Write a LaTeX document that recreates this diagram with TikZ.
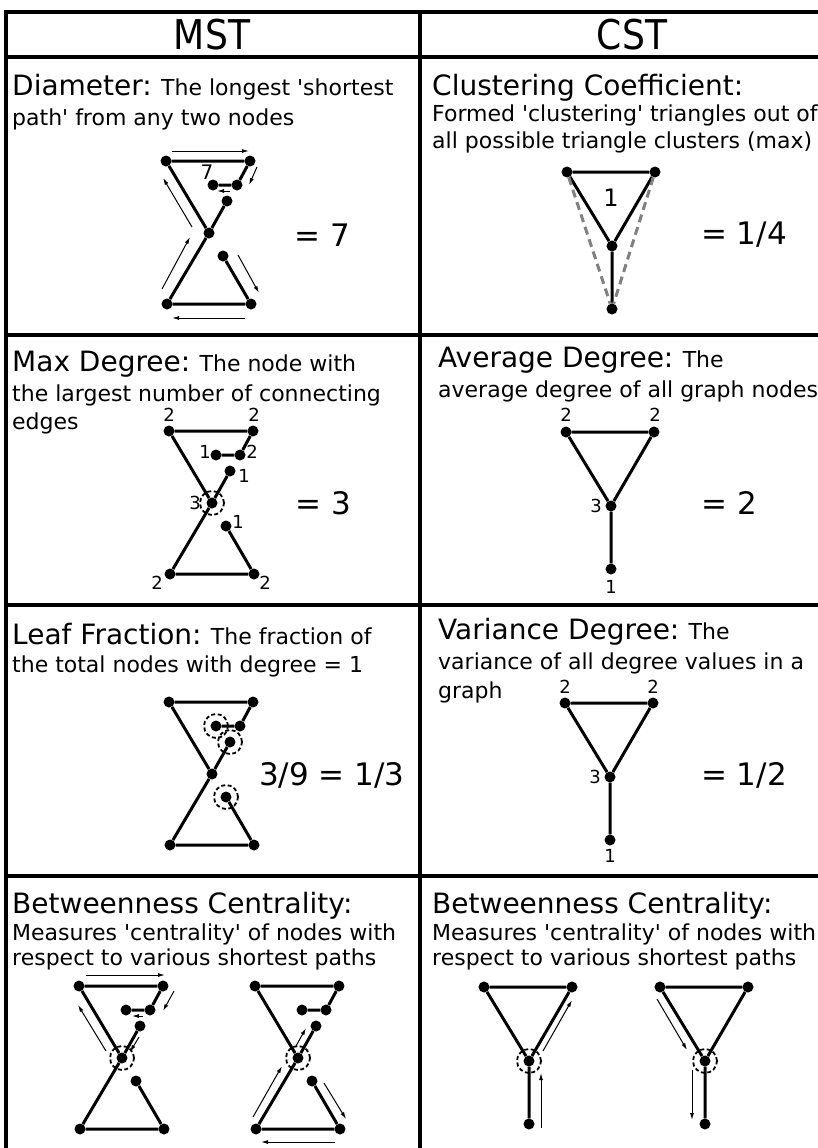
\documentclass[tikz,border=0pt]{standalone}
\usepackage{fontspec}
\setmainfont{DejaVu Sans}
\usetikzlibrary{arrows.meta}
\newcommand\hdtxt[1]{{\fontsize{28}{30}\selectfont #1}}
\newcommand\qq{\textquotesingle}
\tikzset{
  tab/.style={line width=4pt, line cap=rect},
  dot/.style={circle, fill=black, inner sep=0pt, minimum size=11pt},
  edge/.style={line width=3pt},
  arr/.style={-{Latex[length=7pt,width=4pt]}, line width=1pt},
  dcirc/.style={circle, draw, line width=1.8pt, dash pattern=on 4pt off 2.5pt, minimum size=24pt, inner sep=0pt},
  gdash/.style={line width=3pt, draw=black!50, dash pattern=on 8pt off 5pt},
  txt/.style={anchor=base west, inner sep=0pt, font=\fontsize{22}{24}\selectfont},
  eqt/.style={inner sep=0pt, font=\fontsize{31}{33}\selectfont},
  deg/.style={inner sep=0pt, font=\fontsize{18}{20}\selectfont},
  hdr/.style={inner sep=0pt, font=\fontsize{41}{44}\selectfont}
}
\newcommand\hourglass[3]{%
  \begin{scope}[shift={(#2,#3)}]
    \node[dot] (#1tl) at (0,0) {};
    \node[dot] (#1tr) at (84,0) {};
    \node[dot] (#1ir) at (71,24) {};
    \node[dot] (#1il) at (47,24) {};
    \node[dot] (#1ue) at (61,40) {};
    \node[dot] (#1c)  at (43,72) {};
    \node[dot] (#1ls) at (57,95) {};
    \node[dot] (#1bl) at (1,143) {};
    \node[dot] (#1br) at (85,143) {};
    \draw[edge] (#1il) -- (#1ir) -- (#1tr) -- (#1tl) -- (#1c);
    \draw[edge] (#1ue) -- (#1c) -- (#1bl) -- (#1br) -- (#1ls);
  \end{scope}}
\newcommand\tri[3]{%
  \begin{scope}[shift={(#2,#3)}]
    \node[dot] (#1tl) at (0,0) {};
    \node[dot] (#1tr) at (88,0) {};
    \node[dot] (#1m)  at (45,74) {};
    \node[dot] (#1b)  at (45,137) {};
    \draw[edge] (#1m) -- (#1tl) -- (#1tr) -- (#1m) -- (#1b);
  \end{scope}}
\begin{document}
\begin{tikzpicture}[x=1pt, y=-1pt]
\useasboundingbox (0,0) rectangle (818,1148);
\clip (0,0) rectangle (818,1148);
% table
\draw[tab] (6,12) -- (830,12);
\draw[tab] (6,12) -- (6,1160);
\draw[tab] (419.5,12) -- (419.5,1160);
\draw[tab] (6,57) -- (830,57);
\draw[tab] (6,335) -- (830,335);
\draw[tab] (6,605) -- (830,605);
\draw[tab] (6,876) -- (830,876);
% headers
\node[hdr] (hmst) at (212,35) {\scalebox{0.88}[1]{MST}};
\node[hdr] (hcst) at (632,35) {\scalebox{0.88}[1]{CST}};
% row 1 text
\node[txt] (t1a) at (12,95) {\hdtxt{Diameter:} The longest \qq shortest};
\node[txt] (t1b) at (12,125) {path\qq{} from any two nodes};
\node[txt] (t1c) at (432,95) {\hdtxt{Clustering Coefficient:}};
\node[txt] (t1d) at (432,121) {Formed \qq clustering\qq{} triangles out of};
\node[txt] (t1e) at (432,148) {all possible triangle clusters (max)};
% row 2 text
\node[txt] (t2a) at (12,371) {\hdtxt{Max Degree:} The node with};
\node[txt] (t2b) at (12,401) {the largest number of connecting};
\node[txt] (t2c) at (12,429) {edges};
\node[txt] (t2d) at (438,367) {\hdtxt{Average Degree:} The};
\node[txt] (t2e) at (438,397) {average degree of all graph nodes};
% row 3 text
\node[txt] (t3a) at (12,644) {\hdtxt{Leaf Fraction:} The fraction of};
\node[txt] (t3b) at (12,672) {the total nodes with degree = 1};
\node[txt] (t3c) at (438,639) {\hdtxt{Variance Degree:} The};
\node[txt] (t3d) at (438,669) {variance of all degree values in a};
\node[txt] (t3e) at (438,698) {graph};
% row 4 text
\node[txt] (t4a) at (12,913) {\hdtxt{Betweenness Centrality:}};
\node[txt] (t4b) at (12,940) {Measures \qq centrality\qq{} of nodes with};
\node[txt] (t4c) at (12,965) {respect to various shortest paths};
\node[txt] (t4d) at (432,913) {\hdtxt{Betweenness Centrality:}};
\node[txt] (t4e) at (432,940) {Measures \qq centrality\qq{} of nodes with};
\node[txt] (t4f) at (432,965) {respect to various shortest paths};

% ---------- row 1 ----------
\hourglass{p}{166}{161}
\node[deg, font=\fontsize{20}{22}\selectfont] (seven) at (207,172) {7};
\coordinate (a1s) at (172,151); \coordinate (a1e) at (249,151);
\coordinate (a2s) at (257,167); \coordinate (a2e) at (249,185);
\coordinate (a3s) at (230,191); \coordinate (a3e) at (217,191);
\coordinate (a4s) at (192,227); \coordinate (a4e) at (163,178);
\coordinate (a5s) at (162,289); \coordinate (a5e) at (190,237);
\coordinate (a6s) at (238,255); \coordinate (a6e) at (259,293);
\coordinate (a7s) at (245,318); \coordinate (a7e) at (172,318);
\foreach \i in {1,...,7} {\draw[arr] (a\i s) -- (a\i e);}
\node[eqt] (eq1) at (322,235) {= 7};

\tri{q}{567}{172}
\draw[gdash] (qtl) -- (qb);
\draw[gdash] (qtr) -- (qb);
\node[inner sep=0pt, font=\fontsize{24}{26}\selectfont] (one) at (611,198) {1};
\node[eqt] (eq2) at (744,235) {= 1/4};

% ---------- row 2 ----------
\hourglass{r}{169}{431}
\node[dcirc] (rcc) at (rc) {};
\node[deg] (rl1) at (169,415) {2};
\node[deg] (rl2) at (254,415) {2};
\node[deg] (rl3) at (205,452) {1};
\node[deg] (rl4) at (252,452) {2};
\node[deg] (rl5) at (244,476) {1};
\node[deg] (rl6) at (195,503) {3};
\node[deg] (rl7) at (238,522) {1};
\node[deg] (rl8) at (157,583) {2};
\node[deg] (rl9) at (265,583) {2};
\node[eqt] (eq3) at (323,503) {= 3};

\tri{s}{566}{432}
\node[deg] (sl1) at (566,415) {2};
\node[deg] (sl2) at (655,415) {2};
\node[deg] (sl3) at (596,506) {3};
\node[deg] (sl4) at (611,587) {1};
\node[eqt] (eq4) at (729,503) {= 2};

% ---------- row 3 ----------
\hourglass{u}{169}{702}
\node[dcirc] (uilc) at (uil) {};
\node[dcirc] (uuec) at (uue) {};
\node[dcirc] (ulsc) at (uls) {};
\node[eqt] (eq5) at (332,775) {3/9 = 1/3};

\tri{v}{565}{703}
\node[deg] (vl1) at (565,687) {2};
\node[deg] (vl2) at (653,687) {2};
\node[deg] (vl3) at (595,777) {3};
\node[deg] (vl4) at (610,856) {1};
\node[eqt] (eq6) at (744,775) {= 1/2};

% ---------- row 4 ----------
\hourglass{w}{79}{986}
\node[dcirc] (wcc) at (wc) {};
\coordinate (b1s) at (86,975);   \coordinate (b1e) at (165,975);
\coordinate (b2s) at (174,991);  \coordinate (b2e) at (163,1011);
\coordinate (b3s) at (143,1016); \coordinate (b3e) at (132,1016);
\coordinate (b4s) at (139,1037); \coordinate (b4e) at (130,1052);
\coordinate (b5s) at (106,1051); \coordinate (b5e) at (78,1005);
\foreach \i in {1,...,5} {\draw[arr] (b\i s) -- (b\i e);}

\hourglass{x}{255}{986}
\node[dcirc] (xcc) at (xc) {};
\coordinate (c1s) at (253,1117); \coordinate (c1e) at (282,1066);
\coordinate (c2s) at (296,1046); \coordinate (c2e) at (306,1028);
\coordinate (c3s) at (324,1083); \coordinate (c3e) at (346,1119);
\coordinate (c4s) at (335,1142); \coordinate (c4e) at (261,1142);
\foreach \i in {1,...,4} {\draw[arr] (c\i s) -- (c\i e);}

\tri{y}{484}{987}
\node[dcirc] (ymc) at (ym) {};
\coordinate (d1s) at (541,1128); \coordinate (d1e) at (541,1073);
\coordinate (d2s) at (543,1051); \coordinate (d2e) at (572,1000);
\foreach \i in {1,2} {\draw[arr] (d\i s) -- (d\i e);}

\tri{z}{660}{987}
\node[dcirc] (zmc) at (zm) {};
\coordinate (e1s) at (657,999);  \coordinate (e1e) at (687,1050);
\coordinate (e2s) at (692,1070); \coordinate (e2e) at (692,1120);
\foreach \i in {1,2} {\draw[arr] (e\i s) -- (e\i e);}
\end{tikzpicture}
\end{document}
